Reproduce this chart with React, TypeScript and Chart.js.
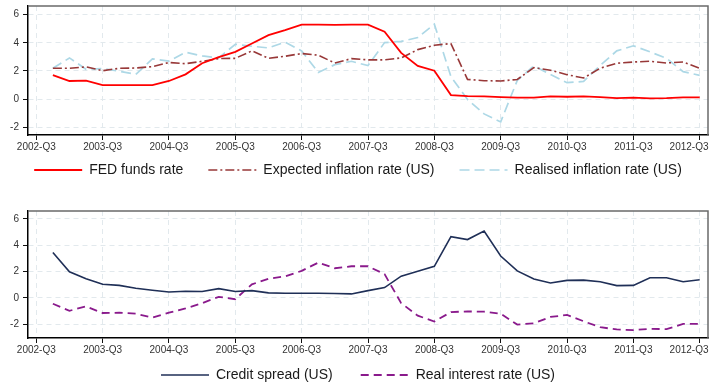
import React, { useEffect, useRef } from 'react';
import { Chart, registerables } from 'chart.js';

Chart.register(...registerables);

// Quarterly periods on the x axis (index 0 = 2002-Q3)
const quarters = [
  '2002-Q3', '2002-Q4', '2003-Q1', '2003-Q2', '2003-Q3', '2003-Q4', '2004-Q1', '2004-Q2',
  '2004-Q3', '2004-Q4', '2005-Q1', '2005-Q2', '2005-Q3', '2005-Q4', '2006-Q1', '2006-Q2',
  '2006-Q3', '2006-Q4', '2007-Q1', '2007-Q2', '2007-Q3', '2007-Q4', '2008-Q1', '2008-Q2',
  '2008-Q3', '2008-Q4', '2009-Q1', '2009-Q2', '2009-Q3', '2009-Q4', '2010-Q1', '2010-Q2',
  '2010-Q3', '2010-Q4', '2011-Q1', '2011-Q2', '2011-Q3', '2011-Q4', '2012-Q1', '2012-Q2',
  '2012-Q3',
];

const xTickLabels = [
  '2002-Q3', '2003-Q3', '2004-Q3', '2005-Q3', '2006-Q3', '2007-Q3',
  '2008-Q3', '2009-Q3', '2010-Q3', '2011-Q3', '2012-Q3',
];
const yTickValues = [-2, 0, 2, 4, 6];

// Upper panel (percent)
const fedFundsRate = [
  null, 1.71, 1.29, 1.31, 1.0, 1.0, 1.0, 1.0, 1.29, 1.76, 2.55,
  2.98, 3.36, 3.95, 4.55, 4.9, 5.3, 5.3, 5.28, 5.3, 5.3,
  4.79, 3.29, 2.36, 2.02, 0.29, 0.21, 0.19, 0.14, 0.1, 0.1,
  0.19, 0.17, 0.19, 0.14, 0.07, 0.1, 0.05, 0.07, 0.12, 0.12,
];
const expectedInflation = [
  null, 2.19, 2.19, 2.29, 2.02, 2.19, 2.21, 2.31, 2.6, 2.52, 2.69,
  2.88, 2.9, 3.43, 2.9, 3.05, 3.24, 3.12, 2.57, 2.88, 2.79,
  2.79, 2.93, 3.52, 3.83, 3.95, 1.4, 1.31, 1.29, 1.4, 2.24,
  2.05, 1.74, 1.5, 2.2, 2.55, 2.64, 2.69, 2.57, 2.64, 2.19,
];
const realisedInflation = [
  null, 2.19, 2.93, 2.12, 2.17, 1.98, 1.76, 2.86, 2.71, 3.33, 3.07,
  2.93, 3.9, 3.76, 3.64, 4.05, 3.43, 1.9, 2.45, 2.69, 2.38,
  4.02, 4.1, 4.38, 5.33, 1.6, -0.02, -1.05, -1.62, 1.33, 2.36,
  1.76, 1.17, 1.26, 2.4, 3.43, 3.79, 3.36, 2.9, 1.95, 1.69,
];

// Lower panel (percent)
const creditSpread = [
  null, 3.45, 1.98, 1.45, 1.03, 0.95, 0.73, 0.58, 0.45, 0.5, 0.48,
  0.7, 0.48, 0.55, 0.38, 0.35, 0.35, 0.35, 0.33, 0.3, 0.55,
  0.78, 1.65, 2.03, 2.4, 4.65, 4.43, 5.08, 3.18, 2.05, 1.43,
  1.13, 1.33, 1.35, 1.23, 0.93, 0.95, 1.53, 1.53, 1.23, 1.38,
];
const realInterestRate = [
  null, -0.45, -0.98, -0.65, -1.15, -1.13, -1.2, -1.5, -1.13, -0.8, -0.4,
  0.08, -0.1, 1.03, 1.45, 1.63, 2.05, 2.68, 2.25, 2.4, 2.4,
  1.8, -0.4, -1.35, -1.8, -1.08, -1.03, -1.05, -1.2, -2.03, -1.93,
  -1.45, -1.3, -1.78, -2.23, -2.4, -2.45, -2.35, -2.38, -1.98, -1.98,
];

const FONT = "'Liberation Sans', Arial, Helvetica, sans-serif";
const GRID = '#e2e9ed';

const toPoints = (series: (number | null)[]) => series.map((v, i) => ({ x: i, y: v }));

// Tick-label boxes reach the canvas edges so the labels are not clipped
// where the legend sits right under the x axis.
const labelRoom = {
  id: 'labelRoom',
  afterLayout(chart: any) {
    chart.scales.x.bottom = chart.height;
    chart.scales.y.left = 0;
  },
};

// Keeps the outermost x tick labels inside the canvas.
const edgeLabels = {
  id: 'edgeLabels',
  beforeDraw(chart: any) {
    const sc = chart.scales.x;
    const items = sc.getLabelItems(chart.chartArea);
    if (!items || !items.length) return;
    const ctx = chart.ctx;
    ctx.save();
    const clamp = (item: any, lo: number, hi: number) => {
      ctx.font = item.font.string;
      const half = ctx.measureText(String(item.label)).width / 2;
      const t = item.options.translation;
      t[0] = Math.min(Math.max(t[0], lo + half), hi - half);
    };
    clamp(items[0], 8, chart.width);
    clamp(items[items.length - 1], 0, chart.width - 1.5);
    ctx.restore();
  },
};

// Grey outline along the top and right of the plot region.
const plotFrame = {
  id: 'plotFrame',
  beforeDatasetsDraw(chart: any) {
    const { ctx, chartArea: a } = chart;
    ctx.save();
    ctx.strokeStyle = '#6a6a6a';
    ctx.lineWidth = 1.5;
    ctx.beginPath();
    ctx.moveTo(a.left, a.top);
    ctx.lineTo(a.right, a.top);
    ctx.lineTo(a.right, a.bottom);
    ctx.stroke();
    ctx.restore();
  },
};

// Legend samples use each dataset's own line width and dash pattern.
const legendLabels = (chart: any) => {
  const items = Chart.defaults.plugins.legend.labels.generateLabels(chart);
  items.forEach((it: any) => {
    const ds = chart.data.datasets[it.datasetIndex];
    it.lineDash = ds.borderDash || [];
    it.lineWidth = ds.borderWidth;
    it.strokeStyle = ds.borderColor;
  });
  return items;
};

type PanelOpts = {
  datasets: any[];
  yMin: number;
  yMax: number;
  padTop: number;
  xAxisHeight: number;
  legendPadding: number;
};

function makeConfig(p: PanelOpts): any {
  const tickFont = { family: FONT, size: 10 };
  return {
    type: 'line',
    data: { datasets: p.datasets },
    options: {
      animation: false,
      responsive: false,
      events: [],
      layout: { padding: { top: p.padTop, left: 8, right: 2, bottom: 0 } },
      elements: { point: { radius: 0 }, line: { tension: 0 } },
      plugins: {
        legend: {
          position: 'bottom',
          labels: {
            usePointStyle: true,
            pointStyle: 'line',
            pointStyleWidth: 48,
            padding: p.legendPadding,
            color: '#1a1a1a',
            font: { family: FONT, size: 14 },
            generateLabels: legendLabels,
          },
        },
        tooltip: { enabled: false },
      },
      scales: {
        x: {
          type: 'linear',
          min: -0.5,
          max: quarters.length - 0.5,
          afterBuildTicks: (s: any) => {
            s.ticks = xTickLabels.map((l) => ({ value: quarters.indexOf(l) }));
          },
          afterFit: (s: any) => {
            s.height = p.xAxisHeight;
            s.paddingLeft = 0;
            s.paddingRight = 0;
          },
          grid: { color: GRID, lineWidth: 1, tickColor: '#111', tickLength: 5, tickWidth: 1 },
          border: { color: '#000', width: 1.5, dash: [5, 4] },
          ticks: {
            autoSkip: false,
            maxRotation: 0,
            padding: 1,
            color: '#333',
            font: tickFont,
            callback: (v: number) => quarters[v],
          },
        },
        y: {
          min: p.yMin,
          max: p.yMax,
          afterBuildTicks: (s: any) => {
            s.ticks = yTickValues.map((v) => ({ value: v }));
          },
          afterFit: (s: any) => {
            s.width = 20;
            s.paddingTop = 0;
            s.paddingBottom = 0;
          },
          grid: { color: GRID, lineWidth: 1, tickColor: '#111', tickLength: 5, tickWidth: 1 },
          border: { color: '#000', width: 1.5, dash: [5, 4] },
          ticks: { padding: 4, color: '#333', font: tickFont, callback: (v: number) => String(v) },
        },
      },
    },
    plugins: [labelRoom, edgeLabels, plotFrame],
  };
}

export default function App() {
  const topRef = useRef<HTMLCanvasElement>(null);
  const bottomRef = useRef<HTMLCanvasElement>(null);

  useEffect(() => {
    const top = new Chart(
      topRef.current!,
      makeConfig({
        yMin: -2.55,
        yMax: 6.62,
        padTop: 6,
        xAxisHeight: 3,
        legendPadding: 25,
        datasets: [
          {
            label: 'FED funds rate',
            data: toPoints(fedFundsRate),
            borderColor: '#ff0000',
            backgroundColor: '#ff0000',
            borderWidth: 1.8,
          },
          {
            label: 'Expected inflation rate (US)',
            data: toPoints(expectedInflation),
            borderColor: '#983838',
            backgroundColor: '#983838',
            borderWidth: 1.6,
            borderDash: [9, 3, 2, 3],
          },
          {
            label: 'Realised inflation rate (US)',
            data: toPoints(realisedInflation),
            borderColor: '#add8e6',
            backgroundColor: '#add8e6',
            borderWidth: 1.7,
            borderDash: [10, 5],
          },
        ],
      })
    );
    const bottom = new Chart(
      bottomRef.current!,
      makeConfig({
        yMin: -3.05,
        yMax: 6.6,
        padTop: 21,
        xAxisHeight: 2,
        legendPadding: 28,
        datasets: [
          {
            label: 'Credit spread (US)',
            data: toPoints(creditSpread),
            borderColor: '#1f2f57',
            backgroundColor: '#1f2f57',
            borderWidth: 1.6,
          },
          {
            label: 'Real interest rate (US)',
            data: toPoints(realInterestRate),
            borderColor: '#8a1a8c',
            backgroundColor: '#8a1a8c',
            borderWidth: 1.8,
            borderDash: [8, 5],
          },
        ],
      })
    );
    return () => {
      top.destroy();
      bottom.destroy();
    };
  }, []);

  return (
    <div
      style={{
        position: 'fixed',
        left: 0,
        top: 0,
        width: 710,
        height: 383,
        overflow: 'hidden',
        background: '#fff',
      }}
    >
      <canvas ref={topRef} width={710} height={187} style={{ position: 'absolute', left: 0, top: 0 }} />
      <canvas ref={bottomRef} width={710} height={202} style={{ position: 'absolute', left: 0, top: 190 }} />
    </div>
  );
}
